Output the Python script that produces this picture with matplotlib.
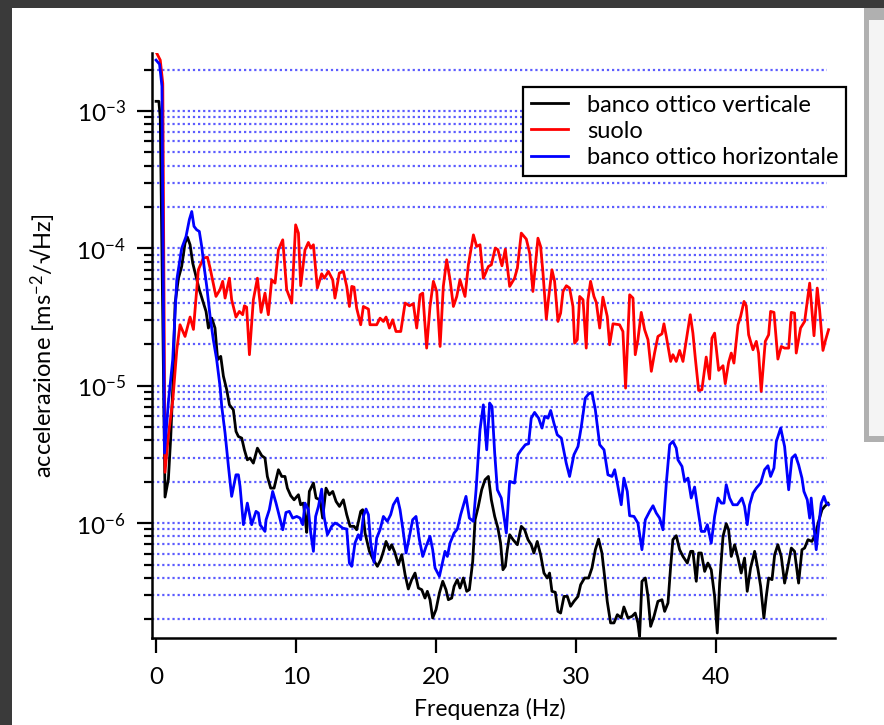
import numpy as np
import matplotlib
matplotlib.use("Agg")
import matplotlib.pyplot as plt
from matplotlib.patches import Rectangle
from matplotlib.ticker import LogLocator, NullFormatter, FixedLocator

# spectra: (frequency in Hz, log10 of acceleration in m s^-2 / sqrt(Hz))
verticale = [(0, -2.93), (0.2, -2.93), (0.3, -3.05), (0.64, -5.81), (0.88, -5.68), (1.05, -5.37), (1.2, -5.0), (1.36, -4.40),
             (1.6, -4.217), (1.83, -4.132), (2.07, -3.962), (2.24, -3.918), (2.43, -3.974), (2.62, -4.108), (2.86, -4.205),
             (3.09, -4.301), (3.38, -4.398), (3.57, -4.459), (3.74, -4.58), (3.98, -4.508), (4.21, -4.58), (4.4, -4.81),
             (4.62, -4.786), (4.81, -4.93), (5.05, -5.03), (5.24, -5.139), (5.52, -5.175), (5.71, -5.332), (5.88, -5.369),
             (6.12, -5.381), (6.31, -5.466), (6.52, -5.539), (6.71, -5.526), (6.95, -5.563), (7.24, -5.454), (7.55, -5.509),
             (7.78, -5.526), (7.95, -5.66), (8.19, -5.745), (8.43, -5.745), (8.74, -5.611), (8.98, -5.66), (9.21, -5.66),
             (9.38, -5.745), (9.62, -5.8), (9.86, -5.83), (10.17, -5.793), (10.33, -5.866), (10.52, -5.854), (10.64, -5.951),
             (10.76, -6.067), (10.95, -5.769), (11.24, -5.708), (11.43, -5.817), (11.71, -5.83), (11.9, -5.963), (12.14, -5.745),
             (12.38, -5.793), (12.62, -5.769), (12.86, -5.842), (13.1, -5.878), (13.38, -5.83), (13.62, -5.938), (13.86, -6.023),
             (14.14, -6.023), (14.33, -6.048), (14.62, -5.914), (14.76, -5.902), (14.93, -6.072), (15.24, -6.205), (15.52, -6.266),
             (15.81, -6.314), (16.05, -6.266), (16.24, -6.205), (16.43, -6.133), (16.67, -6.193), (16.83, -6.157), (17.07, -6.217),
             (17.31, -6.302), (17.55, -6.229), (17.79, -6.375), (18.02, -6.479), (18.26, -6.411), (18.5, -6.363), (18.74, -6.472),
             (18.98, -6.484), (19.21, -6.545), (19.38, -6.496), (19.57, -6.557), (19.76, -6.69), (20.0, -6.629), (20.24, -6.508),
             (20.48, -6.423), (20.71, -6.484), (20.88, -6.557), (21.12, -6.545), (21.29, -6.46), (21.52, -6.411), (21.71, -6.472),
             (21.95, -6.399), (22.19, -6.496), (22.38, -6.484), (22.62, -6.278), (22.79, -5.975), (23.02, -5.878), (23.26, -5.757),
             (23.5, -5.684), (23.74, -5.66), (23.95, -5.83), (24.19, -5.951), (24.42, -6.036), (24.61, -6.145), (24.78, -6.339),
             (24.95, -6.314), (25.09, -6.193), (25.26, -6.084), (25.5, -6.12), (25.81, -6.157), (26.09, -6.023), (26.33, -6.048),
             (26.57, -6.12), (26.8, -6.157), (26.99, -6.217), (27.23, -6.133), (27.47, -6.229), (27.71, -6.363), (27.95, -6.399),
             (28.11, -6.363), (28.28, -6.496), (28.52, -6.503), (28.71, -6.642), (28.9, -6.654), (29.14, -6.533), (29.38, -6.533),
             (29.61, -6.605), (29.85, -6.569), (30.14, -6.533), (30.33, -6.448), (30.61, -6.399), (30.9, -6.399), (31.14, -6.326),
             (31.38, -6.193), (31.61, -6.116), (31.85, -6.217), (32.04, -6.387), (32.23, -6.569), (32.47, -6.726), (32.71, -6.726),
             (32.95, -6.666), (33.23, -6.69), (33.42, -6.61), (33.71, -6.69), (34.0, -6.678), (34.23, -6.654), (34.42, -6.726),
             (34.54, -6.823), (34.71, -6.423), (34.95, -6.399), (35.14, -6.533), (35.33, -6.751), (35.57, -6.678), (35.85, -6.569),
             (36.14, -6.557), (36.33, -6.642), (36.57, -6.581), (36.76, -6.314), (36.92, -6.12), (37.16, -6.091), (37.4, -6.193),
             (37.64, -6.242), (37.95, -6.29), (38.19, -6.205), (38.35, -6.205), (38.59, -6.423), (38.76, -6.217), (38.95, -6.217),
             (39.19, -6.351), (39.42, -6.29), (39.66, -6.339), (39.9, -6.533), (40.09, -6.799), (40.26, -6.436), (40.5, -6.096),
             (40.73, -6.004), (40.9, -6.048), (41.09, -6.242), (41.33, -6.157), (41.57, -6.254), (41.8, -6.363), (42.04, -6.254),
             (42.23, -6.496), (42.47, -6.326), (42.76, -6.205), (43.0, -6.339), (43.19, -6.46), (43.42, -6.69), (43.59, -6.533),
             (43.76, -6.399), (44.0, -6.411), (44.19, -6.229), (44.42, -6.157), (44.66, -6.242), (44.9, -6.436), (45.09, -6.339),
             (45.38, -6.181), (45.61, -6.205), (45.9, -6.436), (46.14, -6.193), (46.33, -6.181), (46.57, -6.12), (46.85, -6.133),
             (47.09, -6.084), (47.33, -5.987), (47.57, -5.902), (47.76, -5.878), (48.0, -5.854)]

suolo = [(0.0, -2.57), (0.3, -2.63), (0.48, -2.80), (0.64, -5.63), (0.88, -5.36), (1.2, -5.10), (1.48, -4.74), (1.71, -4.556),
         (2.07, -4.641), (2.43, -4.50), (2.67, -4.59), (3.02, -4.156), (3.38, -4.071), (3.67, -4.064), (3.86, -4.144), (4.28, -4.35),
         (4.57, -4.30), (4.76, -4.24), (4.93, -4.362), (5.24, -4.217), (5.40, -4.374), (5.71, -4.50), (5.95, -4.459), (6.19, -4.483),
         (6.31, -4.418), (6.47, -4.428), (6.67, -4.774), (6.95, -4.374), (7.24, -4.217), (7.50, -4.466), (7.78, -4.326), (8.02, -4.483),
         (8.26, -4.229), (8.50, -4.253), (8.74, -4.011), (9.05, -3.938), (9.33, -4.30), (9.69, -4.398), (9.97, -3.829), (10.17, -3.889),
         (10.33, -4.272), (10.64, -4.011), (10.88, -3.957), (11.05, -3.998), (11.24, -3.974), (11.52, -4.289), (11.83, -4.185),
         (12.02, -4.217), (12.31, -4.168), (12.62, -4.229), (12.78, -4.362), (13.09, -4.18), (13.38, -4.168), (13.62, -4.277),
         (13.81, -4.423), (13.98, -4.277), (14.14, -4.282), (14.33, -4.435), (14.62, -4.556), (14.81, -4.423), (15.17, -4.442),
         (15.28, -4.556), (15.76, -4.556), (16.0, -4.508), (16.24, -4.532), (16.43, -4.50), (16.67, -4.58), (16.9, -4.52),
         (17.14, -4.605), (17.48, -4.605), (17.79, -4.398), (18.1, -4.418), (18.38, -4.403), (18.62, -4.58), (18.86, -4.338),
         (19.05, -4.326), (19.33, -4.726), (19.57, -4.423), (19.81, -4.24), (20.05, -4.314), (20.29, -4.714), (20.52, -4.277),
         (20.76, -4.083), (21.0, -4.229), (21.24, -4.423), (21.48, -4.35), (21.71, -4.229), (22.07, -4.35), (22.31, -4.12),
         (22.67, -3.902), (22.9, -3.986), (23.14, -3.974), (23.38, -4.217), (23.74, -4.132), (23.95, -4.12), (24.23, -3.998),
         (24.42, -4.01), (24.71, -4.127), (24.95, -4.006), (25.26, -4.277), (25.61, -4.217), (25.81, -4.144), (26.09, -3.889),
         (26.45, -3.933), (26.69, -4.035), (26.92, -4.314), (27.28, -3.926), (27.47, -3.986), (27.64, -4.18), (27.88, -4.515),
         (28.04, -4.362), (28.28, -4.156), (28.47, -4.24), (28.71, -4.532), (28.9, -4.471), (29.07, -4.314), (29.31, -4.272),
         (29.54, -4.289), (29.78, -4.423), (29.9, -4.69), (30.09, -4.665), (30.26, -4.35), (30.5, -4.374), (30.73, -4.726),
         (30.85, -4.374), (31.04, -4.24), (31.28, -4.35), (31.45, -4.394), (31.69, -4.58), (31.92, -4.355), (32.23, -4.495),
         (32.4, -4.702), (32.64, -4.549), (33.11, -4.556), (33.35, -4.605), (33.54, -5.017), (33.83, -4.338), (34.07, -4.362),
         (34.23, -4.774), (34.42, -4.665), (34.66, -4.466), (34.9, -4.592), (35.14, -4.665), (35.38, -4.895), (35.61, -4.762),
         (35.85, -4.641), (36.14, -4.622), (36.28, -4.549), (36.45, -4.641), (36.76, -4.823), (36.92, -4.774), (37.16, -4.823),
         (37.4, -4.743), (37.64, -4.823), (37.88, -4.665), (38.16, -4.483), (38.35, -4.617), (38.52, -4.798), (38.76, -5.034),
         (38.99, -5.029), (39.3, -4.791), (39.54, -4.951), (39.71, -4.653), (39.9, -4.617), (40.19, -4.888), (40.5, -4.854),
         (40.66, -4.985), (40.9, -4.83), (41.09, -4.762), (41.28, -4.835), (41.57, -4.556), (41.76, -4.495), (42.0, -4.386),
         (42.16, -4.418), (42.33, -4.629), (42.64, -4.738), (42.88, -4.677), (43.04, -4.762), (43.23, -5.041), (43.52, -4.677),
         (43.76, -4.629), (43.9, -4.459), (44.14, -4.466), (44.42, -4.806), (44.66, -4.714), (44.9, -4.726), (45.19, -4.726),
         (45.38, -4.466), (45.61, -4.471), (45.73, -4.762), (46.04, -4.58), (46.33, -4.532), (46.69, -4.253), (47.0, -4.636),
         (47.23, -4.289), (47.4, -4.447), (47.64, -4.743), (47.8, -4.677), (48.04, -4.592)]

horizontale = [(0, -2.63), (0.25, -2.66), (0.42, -2.82), (0.6, -5.49), (0.88, -5.12), (1.19, -4.81), (1.48, -4.23), (1.83, -4.0),
               (2.14, -3.914), (2.38, -3.79), (2.55, -3.732), (2.71, -3.84), (2.9, -3.865), (3.09, -3.877), (3.26, -3.986),
               (3.43, -4.132), (3.62, -4.277), (3.86, -4.495), (4.09, -4.665), (4.33, -4.81), (4.57, -5.005), (4.69, -5.15),
               (4.93, -5.345), (5.17, -5.587), (5.4, -5.805), (5.71, -5.648), (5.88, -5.648), (6.0, -5.733), (6.24, -6.011),
               (6.52, -5.854), (6.83, -6.011), (7.14, -5.914), (7.31, -5.926), (7.43, -6.011), (7.78, -6.06), (7.86, -5.975),
               (8.09, -5.902), (8.33, -5.769), (8.57, -5.854), (8.81, -5.951), (9.05, -6.048), (9.28, -5.922), (9.52, -5.914),
               (9.76, -5.963), (10.05, -5.951), (10.29, -5.963), (10.48, -6.011), (10.64, -5.854), (10.88, -5.902), (11.05, -6.072),
               (11.24, -6.205), (11.4, -5.951), (11.6, -5.878), (11.83, -5.752), (12.0, -5.951), (12.24, -6.084), (12.55, -6.023),
               (12.78, -5.999), (13.02, -6.011), (13.33, -6.036), (13.62, -6.043), (13.81, -6.29), (13.98, -6.314), (14.21, -6.145),
               (14.45, -6.084), (14.62, -6.12), (14.81, -5.951), (15.0, -5.897), (15.17, -5.938), (15.33, -6.145), (15.57, -6.285),
               (15.76, -6.108), (16.0, -6.048), (16.24, -5.951), (16.52, -5.987), (16.76, -5.938), (16.95, -5.866), (17.24, -5.817),
               (17.43, -5.902), (17.67, -6.072), (17.86, -6.217), (18.1, -6.096), (18.33, -5.975), (18.57, -5.951), (18.81, -6.12),
               (19.05, -6.242), (19.29, -6.169), (19.57, -6.096), (19.76, -6.193), (19.93, -6.326), (20.24, -6.387), (20.4, -6.314),
               (20.64, -6.205), (20.81, -6.242), (21.0, -6.145), (21.29, -6.072), (21.52, -6.043), (21.76, -5.938), (22.14, -5.805),
               (22.38, -5.963), (22.67, -5.987), (22.86, -5.757), (23.14, -5.32), (23.38, -5.139), (23.62, -5.466), (23.83, -5.126),
               (24.0, -5.151), (24.19, -5.49), (24.38, -5.757), (24.66, -5.817), (25.02, -6.072), (25.26, -5.696), (25.61, -5.708),
               (25.85, -5.502), (26.09, -5.466), (26.38, -5.429), (26.61, -5.422), (26.8, -5.236), (27.04, -5.194), (27.33, -5.236),
               (27.57, -5.308), (27.76, -5.223), (28.0, -5.236), (28.19, -5.18), (28.42, -5.272), (28.66, -5.357), (28.95, -5.381),
               (29.3, -5.563), (29.54, -5.66), (29.85, -5.502), (30.14, -5.442), (30.38, -5.296), (30.66, -5.09), (30.9, -5.059),
               (31.14, -5.049), (31.38, -5.175), (31.69, -5.429), (32.0, -5.466), (32.28, -5.648), (32.57, -5.66), (32.76, -5.611),
               (32.95, -5.708), (33.23, -5.866), (33.42, -5.672), (33.66, -5.769), (33.83, -5.946), (34.14, -5.951), (34.42, -5.999),
               (34.71, -6.193), (34.95, -5.975), (35.26, -5.914), (35.5, -5.873), (35.73, -5.926), (35.97, -5.963), (36.21, -6.048),
               (36.45, -5.708), (36.69, -5.429), (36.92, -5.405), (37.16, -5.454), (37.28, -5.539), (37.57, -5.587), (37.76, -5.696),
               (38.0, -5.672), (38.23, -5.817), (38.47, -5.737), (38.71, -5.902), (38.95, -6.06), (39.19, -6.06), (39.38, -6.011),
               (39.66, -6.145), (39.9, -5.951), (40.14, -5.817), (40.38, -5.854), (40.57, -5.854), (40.73, -5.72), (40.97, -5.817),
               (41.21, -5.866), (41.52, -5.866), (41.85, -5.817), (42.04, -5.878), (42.23, -6.011), (42.4, -5.866), (42.64, -5.781),
               (42.88, -5.745), (43.19, -5.708), (43.47, -5.611), (43.71, -5.582), (43.9, -5.66), (44.14, -5.599), (44.31, -5.405),
               (44.62, -5.308), (44.9, -5.442), (45.19, -5.757), (45.42, -5.526), (45.66, -5.502), (45.9, -5.575), (46.14, -5.672),
               (46.28, -5.769), (46.52, -5.83), (46.69, -5.963), (46.8, -5.817), (46.99, -6.023), (47.16, -6.193), (47.33, -6.023),
               (47.52, -5.854), (47.71, -5.805), (47.88, -5.854), (48.04, -5.866)]

labels = ["banco ottico verticale", "suolo", "banco ottico horizontale"]
colors = ["black", "red", "blue"]
x_ticks = [0, 10, 20, 30, 40]

plt.rcParams['font.family'] = ['Lato', 'DejaVu Sans']
plt.rcParams['mathtext.fontset'] = 'custom'
plt.rcParams['mathtext.rm'] = 'Lato'
plt.rcParams['mathtext.default'] = 'regular'

W, H = 884, 725
fig = plt.figure(figsize=(W / 100, H / 100), dpi=100)
fig.patch.set_facecolor('#3a3a3a')


def box(x0, y0, x1, y1, color):
    fig.patches.append(Rectangle((x0 / W, 1 - y1 / H), (x1 - x0) / W, (y1 - y0) / H,
                                 transform=fig.transFigure, facecolor=color, edgecolor='none', zorder=-10))


box(12, 8, 884, 725, 'white')
box(864, 8, 884, 442, '#b0b0b0')
box(869, 20, 884, 436, '#f4f4f4')

ax = fig.add_axes([152 / W, 1 - 638 / H, (835 - 152) / W, (638 - 53) / H])
ax.set_yscale('log')
ax.set_xlim(-0.29, 48.5)
ax.set_ylim(1.46e-7, 2.64e-3)

# dotted horizontal grid at every decade sub-division, stopping short of the axis end
grid_vals = [m * 10.0 ** e for e in range(-7, -2) for m in range(1, 10)]
grid_vals = [g for g in grid_vals if 1.5e-7 < g < 2.6e-3]
ax.hlines(grid_vals, -0.29, 47.9, colors='#5c5cff', linestyles=(0, (1, 1.3)), linewidth=1.6, zorder=1)

for series, lab, col in zip([verticale, suolo, horizontale], labels, colors):
    f, lg = np.array(series).T
    ax.plot(f, 10 ** lg, color=col, lw=2.0, label=lab, zorder=3)

for s in ['top', 'right']:
    ax.spines[s].set_visible(False)
for s in ['left', 'bottom']:
    ax.spines[s].set_linewidth(1.8)

ax.xaxis.set_major_locator(FixedLocator(x_ticks))
ax.yaxis.set_major_locator(LogLocator(base=10, numticks=10))
ax.yaxis.set_minor_locator(LogLocator(base=10, subs=np.arange(2, 10), numticks=20))
ax.yaxis.set_minor_formatter(NullFormatter())
ax.tick_params(axis='both', which='major', length=11, width=1.6, labelsize=17.5, direction='out')
ax.tick_params(axis='y', which='major', pad=8)
ax.tick_params(axis='x', which='major', pad=10)
ax.tick_params(axis='y', which='minor', length=5.5, width=1.6, direction='out')

ax.set_xlabel('Frequenza (Hz)', fontsize=16.5)
ax.xaxis.set_label_coords(0.495, -0.102)
ax.set_ylabel('accelerazione [ms$^{-2}$/√Hz]', fontsize=17)
ax.yaxis.set_label_coords(-0.139, 0.5)

leg = fig.legend(loc='upper left', bbox_to_anchor=(523 / W, 1 - 87 / H), borderaxespad=0,
                 fontsize=17, frameon=True, fancybox=False, handlelength=1.6, handletextpad=0.8,
                 labelspacing=0.22, borderpad=0.32)
leg.get_frame().set_edgecolor('black')
leg.get_frame().set_linewidth(1.6)
leg.get_frame().set_alpha(1)

fig.savefig('out.png', dpi=100, facecolor=fig.get_facecolor())
